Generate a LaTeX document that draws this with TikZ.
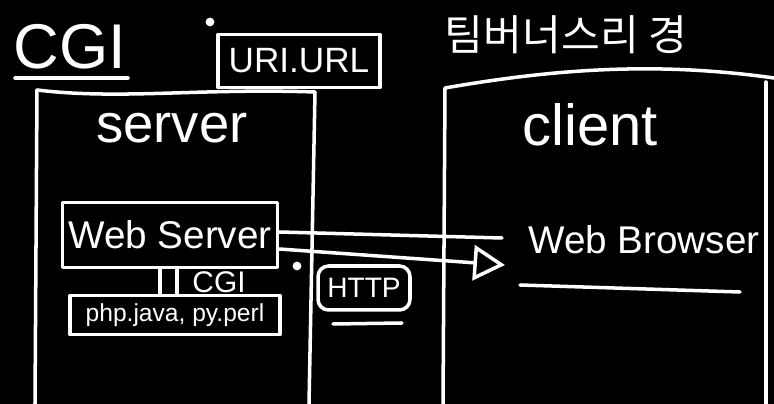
\documentclass[tikz,border=0pt]{standalone}
\usepackage{fontspec}
\setmainfont{Liberation Sans}
\newfontfamily\krfont{Noto Sans CJK KR}
\usetikzlibrary{positioning}
\usetikzlibrary{arrows.meta}

\begin{document}
\begin{tikzpicture}[x=0.02cm, y=-0.02cm, >={Triangle[open,length=18pt,width=20pt]},
    every node/.style={text=white}]
  \tikzset{
    chalk/.style={draw=white, line width=2pt, line cap=round, line join=round},
    kasten/.style={chalk, inner sep=0pt},
    punkt/.style={fill=white, circle, inner sep=0pt, minimum size=5pt}
  }
  % tafel
  \fill[black] (0,0) rectangle (774,404);
  \useasboundingbox (0,0) rectangle (774,404);

  % titel
  \node (cgi) at (70,47) {\fontsize{36}{40}\selectfont CGI};
  \node (tbl) at (566,35) {\krfont\fontsize{24}{28}\selectfont 팀버너스리 경};
  \node[kasten, minimum width=3.24cm, minimum height=1.06cm] (uri) at (299,61)
    {\fontsize{20}{24}\selectfont URI.URL};
  \node[punkt] (p1) at (210,22) {};
  \coordinate (cgiL) at (15,78);
  \coordinate (cgiR) at (128,78);
  \draw[chalk] (cgiL) -- (cgiR);

  % server seite
  \draw[chalk] (35,404) -- (37,90) .. controls (120,100) and (200,88) .. (315,92) -- (309,404);
  \node (server) at (172,128) {\fontsize{31}{34}\selectfont server};
  \node[kasten, minimum width=4.3cm, minimum height=1.3cm] (ws) at (170,235)
    {\fontsize{22}{26}\selectfont Web Server};
  \node[kasten, minimum width=4.2cm, minimum height=0.78cm] (lang) at (175,315)
    {\fontsize{14}{16}\selectfont php.java, py.perl};
  \draw[chalk] (ws.south -| 160,0) -- (lang.north -| 160,0);
  \draw[chalk] (ws.south -| 177,0) -- (lang.north -| 177,0);
  \node (cgi2) at (219,282) {\fontsize{17}{20}\selectfont CGI};

  % client seite
  \draw[chalk] (443,404) -- (445,88) .. controls (560,68) and (660,62) .. (774,78);
  \draw[chalk] (766,404) -- (766,82);
  \node (client) at (590,125) {\fontsize{33}{36}\selectfont client};
  \node (wb) at (644,240) {\fontsize{22}{26}\selectfont Web Browser};
  \coordinate (wbL) at (520,285);
  \coordinate (wbR) at (740,292);
  \draw[chalk] (wbL) -- (wbR);

  % http
  \coordinate (a1) at (502,238);
  \coordinate (a2) at (505,265);
  \draw[chalk] (ws.east |- 0,232) -- (a1);
  \draw[chalk,->] (ws.east |- 0,249) -- (a2);
  \node[kasten, rounded corners=6pt, minimum width=1.84cm, minimum height=0.88cm] (http) at (364,288)
    {\fontsize{16}{19}\selectfont HTTP};
  \node[punkt] (p2) at (297,266) {};
  \coordinate (hL) at (333,324);
  \coordinate (hR) at (402,323);
  \draw[chalk] (hL) -- (hR);
\end{tikzpicture}
\end{document}
